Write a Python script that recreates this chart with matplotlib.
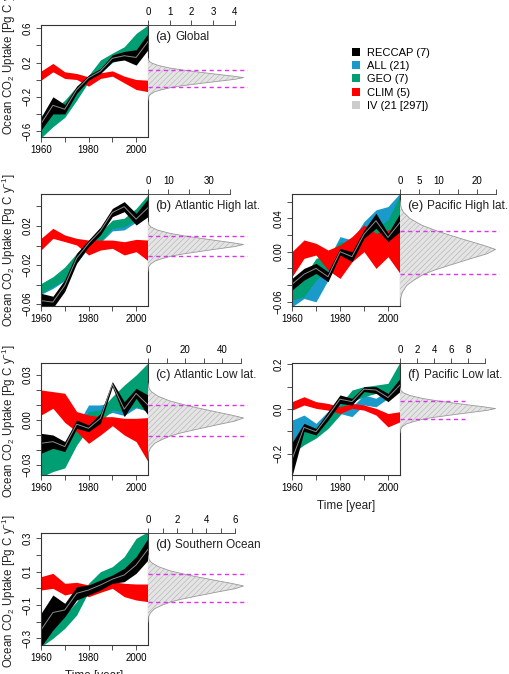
import numpy as np
import matplotlib
matplotlib.use('Agg')
import matplotlib.pyplot as plt
from matplotlib.patches import Patch
from matplotlib.transforms import offset_copy

plt.rcParams['font.family'] = ['Liberation Sans', 'DejaVu Sans']
plt.rcParams['mathtext.fontset'] = 'custom'
plt.rcParams['mathtext.rm'] = 'Liberation Sans'
plt.rcParams['mathtext.it'] = 'Liberation Sans:italic'
plt.rcParams['hatch.linewidth'] = 0.3

years = [1960, 1965, 1970, 1975, 1980, 1985, 1990, 1995, 2000, 2005]

# ---- (a) Global : [lower, upper] of each ensemble range
a_all = [[-0.60, -0.50, -0.42, -0.22, -0.02, 0.08, 0.20, 0.26, 0.30, 0.42],
         [-0.42, -0.35, -0.25, -0.10, 0.04, 0.18, 0.28, 0.33, 0.42, 0.52]]
a_geo = [[-0.68, -0.55, -0.44, -0.24, -0.025, 0.09, 0.21, 0.29, 0.35, 0.50],
         [-0.51, -0.36, -0.24, -0.08, 0.05, 0.23, 0.31, 0.385, 0.54, 0.64]]
a_clim = [[-0.006, 0.092, 0.014, 0.002, -0.076, 0.014, 0.041, -0.037, -0.115, -0.14],
          [0.10, 0.19, 0.092, 0.072, 0.033, 0.08, 0.103, 0.041, 0.002, -0.006]]
a_reccap = [[-0.59, -0.40, -0.40, -0.16, -0.006, 0.072, 0.21, 0.23, 0.17, 0.35],
            [-0.44, -0.20, -0.29, -0.076, 0.053, 0.13, 0.29, 0.33, 0.35, 0.54]]

# ---- (b) Atlantic High lat.
b_all = [[-0.050, -0.044, -0.036, -0.018, -0.002, 0.003, 0.015, 0.016, 0.024, 0.040],
         [-0.040, -0.033, -0.023, -0.009, 0.005, 0.012, 0.024, 0.026, 0.036, 0.050]]
b_geo = [[-0.049, -0.042, -0.0354, -0.0166, -0.0012, 0.004, 0.0176, 0.0193, 0.026, 0.043],
         [-0.039, -0.032, -0.022, -0.008, 0.0056, 0.014, 0.026, 0.028, 0.038, 0.052]]
b_clim = [[-0.0046, 0.0073, 0.004, 0.0005, -0.0097, -0.0046, -0.0029, -0.0097, -0.0063, -0.0156],
          [0.0073, 0.0176, 0.0108, 0.0073, 0.0056, 0.0056, 0.0056, 0.0039, 0.0063, 0.0056]]
b_reccap = [[-0.064, -0.064, -0.047, -0.018, -0.0012, 0.011, 0.0296, 0.0347, 0.021, 0.0296],
            [-0.049, -0.052, -0.035, -0.008, 0.0056, 0.019, 0.038, 0.045, 0.033, 0.048]]

# ---- (c) Atlantic Low lat.
c_all = [[-0.030, -0.027, -0.025, -0.012, 0.0, 0.002, 0.005, 0.003, 0.008, 0.006],
         [-0.012, -0.016, -0.015, -0.004, 0.010, 0.010, 0.012, 0.010, 0.016, 0.018]]
c_geo = [[-0.038, -0.0344, -0.032, -0.0167, -0.0056, -0.0011, 0.0067, 0.0056, 0.0089, 0.0056],
         [-0.0167, -0.0150, -0.0144, -0.0056, 0.0056, 0.0067, 0.0156, 0.0233, 0.0300, 0.0380]]
c_clim = [[0.0033, 0.0078, -0.0016, -0.0078, -0.0156, -0.0100, -0.0038, -0.0100, -0.0144, -0.0278],
          [0.0200, 0.0189, 0.0178, 0.0056, 0.0033, 0.0022, 0.0022, 0.0011, 0.0011, 0.0016]]
c_reccap = [[-0.0222, -0.0189, -0.0211, -0.0056, -0.0078, -0.0022, 0.0222, 0.0022, 0.0144, 0.0033],
            [-0.0089, -0.0100, -0.0144, 0.0000, -0.0033, 0.0044, 0.0256, 0.0122, 0.0211, 0.0167]]

# ---- (d) Southern Ocean
d_all = [[-0.33, -0.29, -0.23, -0.15, -0.02, 0.05, 0.07, 0.10, 0.17, 0.24],
         [-0.28, -0.23, -0.17, -0.09, 0.02, 0.09, 0.12, 0.18, 0.28, 0.32]]
d_geo = [[-0.35, -0.30, -0.24, -0.16, -0.02, 0.05, 0.07, 0.10, 0.18, 0.25],
         [-0.27, -0.22, -0.16, -0.08, 0.03, 0.10, 0.13, 0.19, 0.30, 0.34]]
d_clim = [[-0.01, 0.0, -0.04, -0.024, -0.05, -0.024, 0.0, -0.05, -0.07, -0.08],
          [0.07, 0.09, 0.03, 0.036, 0.02, 0.026, 0.04, 0.03, 0.026, 0.026]]
d_reccap = [[-0.35, -0.25, -0.17, -0.07, -0.04, -0.01, 0.03, 0.04, 0.09, 0.17],
            [-0.15, -0.04, -0.09, 0.01, 0.02, 0.05, 0.08, 0.12, 0.19, 0.30]]

# ---- (e) Pacific High lat.
e_all = [[-0.066, -0.056, -0.060, -0.034, 0.002, -0.002, 0.014, 0.018, 0.018, 0.042],
         [-0.038, -0.040, -0.020, -0.010, 0.018, 0.014, 0.036, 0.050, 0.054, 0.070]]
e_geo = [[-0.058, -0.054, -0.034, -0.022, -0.002, -0.006, 0.012, 0.016, 0.018, 0.026],
         [-0.034, -0.030, -0.008, -0.004, 0.012, 0.010, 0.028, 0.028, 0.038, 0.068]]
e_clim = [[-0.030, -0.008, -0.004, -0.022, -0.032, -0.012, 0.000, -0.020, -0.006, -0.026],
          [0.000, 0.014, 0.010, 0.002, 0.008, 0.018, 0.032, 0.022, 0.026, 0.028]]
e_reccap = [[-0.046, -0.034, -0.026, -0.036, -0.004, -0.012, 0.016, 0.028, 0.012, 0.024],
            [-0.032, -0.020, -0.014, -0.024, 0.004, 0.000, 0.026, 0.046, 0.022, 0.046]]

# ---- (f) Pacific Low lat.
f_all = [[-0.18, -0.116, -0.116, -0.07, -0.02, -0.034, 0.018, 0.01, 0.048, 0.13],
         [-0.05, -0.027, -0.064, -0.01, 0.025, 0.01, 0.063, 0.048, 0.085, 0.18]]
f_geo = [[-0.20, -0.16, -0.13, -0.087, -0.027, 0.033, 0.055, 0.07, 0.07, 0.137],
         [-0.16, -0.10, -0.08, -0.027, 0.018, 0.085, 0.10, 0.107, 0.115, 0.21]]
f_clim = [[-0.005, 0.018, 0.003, -0.005, -0.02, 0.003, -0.005, -0.027, -0.08, -0.057],
          [0.033, 0.055, 0.033, 0.025, 0.01, 0.025, 0.018, 0.003, -0.02, -0.012]]
f_reccap = [[-0.30, -0.10, -0.116, -0.05, 0.025, 0.018, 0.078, 0.07, 0.033, 0.078],
            [-0.15, -0.064, -0.087, -0.012, 0.063, 0.048, 0.10, 0.10, 0.07, 0.137]]

# internal variability distribution: mean, sd (dashed lines) and peak density
iv_mean = {'a': 0.0095, 'b': -0.0005, 'c': -0.0002, 'd': 0.002, 'e': -0.0012, 'f': -0.004}
iv_sd = {'a': 0.10, 'b': 0.0103, 'c': 0.0102, 'd': 0.082, 'e': 0.026, 'f': 0.041}
iv_peak = {'a': 4.41, 'b': 46.6, 'c': 51.4, 'd': 6.57, 'e': 24.8, 'f': 11.2}
# shape of the density (offset in sd units, fraction of peak)
iv_z = [-2.5, -2.13, -1.82, -1.51, -1.28, -1.00, -0.82, -0.59, -0.28, -0.05, 0.15,
        0.335, 0.565, 0.80, 1.00, 1.26, 1.57, 1.87, 2.10, 2.4]
iv_r = [0.0, 0.004, 0.025, 0.07, 0.14, 0.246, 0.35, 0.51, 0.737, 0.912, 1.0,
        0.877, 0.70, 0.526, 0.386, 0.23, 0.105, 0.035, 0.01, 0.0]

names = {'a': 'Global', 'b': 'Atlantic High lat.', 'c': 'Atlantic Low lat.',
         'd': 'Southern Ocean', 'e': 'Pacific High lat.', 'f': 'Pacific Low lat.'}
data = {'a': (a_all, a_geo, a_clim, a_reccap), 'b': (b_all, b_geo, b_clim, b_reccap),
        'c': (c_all, c_geo, c_clim, c_reccap), 'd': (d_all, d_geo, d_clim, d_reccap),
        'e': (e_all, e_geo, e_clim, e_reccap), 'f': (f_all, f_geo, f_clim, f_reccap)}
ylims = {'a': (-0.67, 0.639), 'b': (-0.062, 0.0528), 'c': (-0.0367, 0.038),
         'd': (-0.34, 0.332), 'e': (-0.065, 0.069), 'f': (-0.295, 0.2058)}
yticks = {'a': (np.arange(-0.6, 0.61, 0.2), ['−0.6', '', '−0.2', '', '0.2', '', '0.6']),
          'b': (np.arange(-0.06, 0.041, 0.02), ['−0.06', '', '−0.02', '', '0.02', '']),
          'c': (np.arange(-0.03, 0.031, 0.01), ['−0.03', '', '', '0.00', '', '', '0.03']),
          'd': (np.arange(-0.3, 0.31, 0.1), ['−0.3', '', '−0.1', '', '0.1', '', '0.3']),
          'e': (np.arange(-0.06, 0.061, 0.02), ['−0.06', '', '', '0.00', '', '0.04', '']),
          'f': (np.arange(-0.2, 0.21, 0.1), ['−0.2', '', '0.0', '', '0.2'])}
dticks = {'a': ([0, 1, 2, 3, 4], ['0', '1', '2', '3', '4']),
          'b': ([0, 10, 20, 30, 40], ['0', '10', '', '30', '']),
          'c': ([0, 10, 20, 30, 40, 50], ['0', '', '20', '', '40', '']),
          'd': ([0, 1, 2, 3, 4, 5, 6], ['0', '', '2', '', '4', '', '6']),
          'e': ([0, 5, 10, 15, 20, 25], ['0', '5', '10', '', '20', '']),
          'f': ([0, 2, 4, 6, 8, 10], ['0', '2', '4', '6', '8', ''])}
dash_end = {'f': 7.6}

colors = ['#1a9acb', '#009e73', '#ff0000', '#000000']  # ALL, GEO, CLIM, RECCAP

W, H = 510.0, 674.0
fig = plt.figure(figsize=(W / 100, H / 100), dpi=100)
renderer = fig.canvas.get_renderer()


def px_axes(x0, y0, w, h):
    return fig.add_axes([x0 / W, 1 - (y0 + h) / H, w / W, h / H])


# panel -> (left of main box, top, main width)
layout = {'a': (41, 25, 107), 'b': (41, 194, 107), 'c': (41, 363, 107), 'd': (41, 533, 107),
          'e': (292, 194, 108), 'f': (292, 363, 108)}
ylab_y = {'a': 58, 'b': 250, 'c': 421, 'd': 591}
tick_fs = 7.0

for key, (mx, top, mw) in layout.items():
    ax = px_axes(mx, top, mw, 112)
    for band, col in zip(data[key], colors):
        ax.fill_between(years, band[0], band[1], color=col, lw=0)
    rc = data[key][3]
    ax.plot(years, [(lo + hi) / 2 for lo, hi in zip(rc[0], rc[1])], color='#8c8c8c', lw=0.7)
    ax.set_xlim(1960, 2005)
    ax.set_ylim(*ylims[key])
    ax.set_xticks([1960, 1970, 1980, 1990, 2000])
    ax.set_xticklabels(['1960', '', '1980', '', '2000'])
    ax.set_yticks(yticks[key][0])
    ax.set_yticklabels(yticks[key][1], rotation=90, va='center')
    ax.tick_params(direction='out', length=3.6, width=0.6, labelsize=tick_fs, pad=2.5, color='#333333')
    for s in ax.spines.values():
        s.set_linewidth(0.8)
        s.set_color('#333333')

    dx = px_axes(mx + mw, top, 100, 112)
    dx.patch.set_alpha(0)
    dx.set_ylim(*ylims[key])
    dx.set_xlim(0, iv_peak[key] / 0.955)
    yy = [iv_mean[key] + z * iv_sd[key] for z in iv_z]
    xx = [r * iv_peak[key] for r in iv_r]
    dx.fill_betweenx(yy, 0, xx, facecolor='#e4e4e4', edgecolor='#a0a0a0', hatch='//////', lw=0)
    dx.plot(xx, yy, color='#999999', lw=0.6)
    xe = dash_end.get(key, iv_peak[key] / 0.955)
    for yv in (iv_mean[key] - iv_sd[key], iv_mean[key] + iv_sd[key]):
        dx.plot([0, xe], [yv, yv], color='#dd33ee', lw=1.0, ls=(0, (3, 2.5)), zorder=5)
    for s in ('left', 'right', 'bottom'):
        dx.spines[s].set_visible(False)
    dx.spines['top'].set_linewidth(0.6)
    dx.spines['top'].set_color('#333333')
    dx.spines['top'].set_bounds(0, dticks[key][0][-1])
    dx.set_yticks([])
    dx.xaxis.tick_top()
    dx.set_xticks(dticks[key][0])
    dx.set_xticklabels(dticks[key][1])
    dx.tick_params(direction='out', length=3.6, width=0.6, labelsize=tick_fs, pad=2.5, color='#333333')

    lt = dx.text(0, 1, '(%s)' % key, fontsize=9.5, va='baseline', ha='left', color='#222222',
                 transform=offset_copy(dx.transAxes, fig, x=7, y=-15, units='dots'))
    wl = lt.get_window_extent(renderer).width
    dx.text(0, 1, names[key], fontsize=8.5, va='baseline', ha='left', color='#222222',
            transform=offset_copy(dx.transAxes, fig, x=7 + wl + 4, y=-15, units='dots'))

    if key in ylab_y:
        fig.text(8.5 / W, 1 - ylab_y[key] / H, 'Ocean CO$_2$ Uptake [Pg C y$^{-1}$]',
                 rotation=90, ha='center', va='center', fontsize=8.3, color='#222222')
    if key in ('d', 'f'):
        fig.text((mx + mw / 2) / W, 1 - (top + 112 + 31) / H, 'Time [year]',
                 ha='center', va='center', fontsize=8.5, color='#222222')

leg_labels = ['RECCAP (7)', 'ALL (21)', 'GEO (7)', 'CLIM (5)', 'IV (21 [297])']
leg_colors = ['#000000', '#1a9acb', '#009e73', '#ff0000', '#cccccc']
handles = [Patch(facecolor=c, edgecolor='none') for c in leg_colors]
fig.legend(handles, leg_labels, loc='upper left', bbox_to_anchor=(352 / W, 1 - 47.5 / H),
           frameon=False, fontsize=8.0, handlelength=0.7, handleheight=0.7,
           handletextpad=0.65, labelspacing=0.3, borderpad=0, borderaxespad=0)

fig.savefig('out.png', dpi=100)
